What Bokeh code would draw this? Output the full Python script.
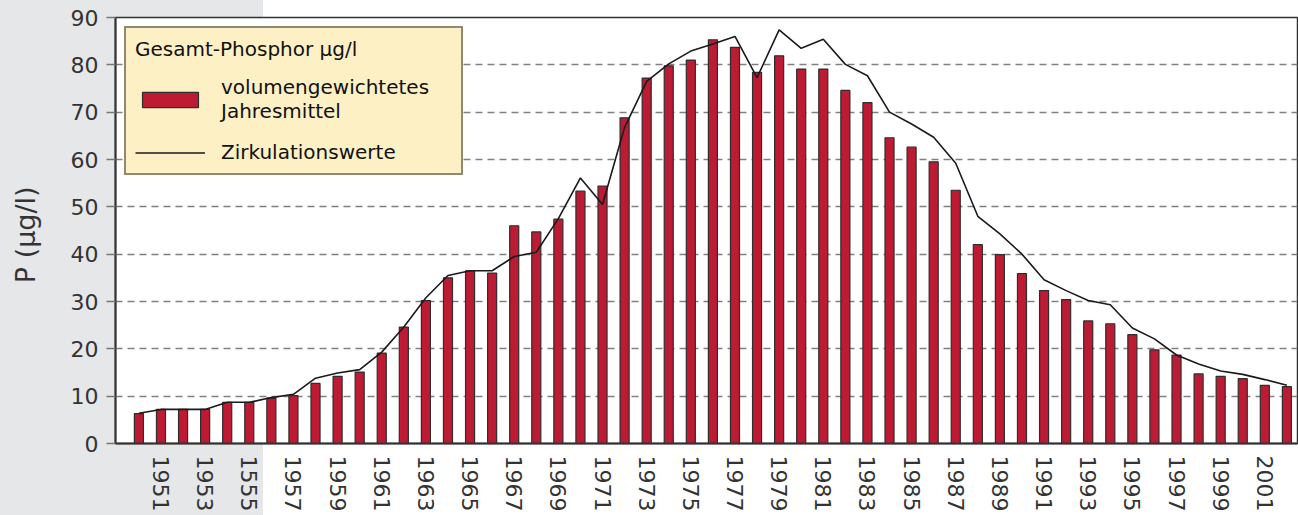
from bokeh.plotting import figure
from bokeh.models import Range1d, FixedTicker, Legend, LegendItem, ColumnDataSource
from bokeh.embed import file_html
from bokeh.resources import INLINE

# ---- data ----
years = list(range(1950, 2003))
jahresmittel = [6.3, 7.2, 7.2, 7.2, 8.7, 8.7, 9.6, 10.1, 12.7, 14.2,
                15.1, 19.1, 24.6, 30.2, 35.0, 36.5, 36.0, 46.0, 44.7, 47.4,
                53.3, 54.4, 68.8, 77.2, 79.8, 81.0, 85.3, 83.7, 78.4, 81.9,
                79.1, 79.1, 74.6, 72.0, 64.6, 62.6, 59.5, 53.5, 42.0, 39.9,
                35.9, 32.3, 30.4, 25.9, 25.3, 23.0, 19.8, 18.7, 14.7, 14.2,
                13.7, 12.3, 12.0]
zirkulation = [6.4, 7.2, 7.2, 7.2, 8.7, 8.7, 9.7, 10.4, 13.8, 14.9,
               15.6, 19.3, 24.6, 30.8, 35.5, 36.5, 36.5, 39.5, 40.4, 47.5,
               56.1, 50.5, 66.8, 76.5, 80.2, 82.9, 84.4, 86.0, 77.3, 87.4,
               83.5, 85.4, 80.1, 77.7, 70.0, 67.5, 64.7, 59.2, 48.0, 44.3,
               40.0, 34.6, 32.3, 30.2, 29.3, 24.4, 22.1, 18.7, 16.8, 15.3,
               14.6, 13.5, 12.3]
tick_years = [1951, 1953, 1955, 1957, 1959, 1961, 1963, 1965, 1967, 1969,
              1971, 1973, 1975, 1977, 1979, 1981, 1983, 1985, 1987, 1989,
              1991, 1993, 1995, 1997, 1999, 2001]
tick_labels = ["1951", "1953", "1555", "1957", "1959", "1961", "1963", "1965",
               "1967", "1969", "1971", "1973", "1975", "1977", "1979", "1981",
               "1983", "1985", "1987", "1989", "1991", "1993", "1995", "1997",
               "1999", "2001"]
y_ticks = [0, 10, 20, 30, 40, 50, 60, 70, 80, 90]

legend_title = "Gesamt-Phosphor µg/l"
label_bars = "volumengewichtetes\nJahresmittel"
label_line = "Zirkulationswerte"
y_label = "P  (µg/l)"

RED = "#BD1A33"
FONT = "DejaVu Sans"

src = ColumnDataSource(dict(year=years, jm=jahresmittel, zk=zirkulation))

p = figure(width=1298, height=515,
           x_range=Range1d(1948.94, 2002.48), y_range=Range1d(0, 90),
           output_backend="svg", toolbar_location=None,
           min_border_left=115, min_border_right=1,
           min_border_top=17, min_border_bottom=72)

p.border_fill_color = None
p.background_fill_color = "white"
p.styles = {"background": "linear-gradient(to right, #e6e7e9 0px, #e6e7e9 263px, #ffffff 263px)"}
p.outline_line_color = "#333333"
p.outline_line_width = 1.5

bars = p.vbar(x="year", top="jm", width=0.41, source=src,
              fill_color=RED, line_color="#2e2e2e", line_width=1.2)
line = p.line(x="year", y="zk", source=src, line_color="#1a1a1a", line_width=1.6)

# grid
p.xgrid.visible = False
p.ygrid.grid_line_color = "#808080"
p.ygrid.grid_line_width = 1.5
p.ygrid.grid_line_dash = "7 5"

# y axis
p.yaxis.ticker = FixedTicker(ticks=y_ticks)
p.yaxis.major_label_text_font = FONT
p.yaxis.major_label_text_font_size = "22px"
p.yaxis.major_label_text_color = "#333333"
p.yaxis.major_tick_out = 9
p.yaxis.major_tick_in = 0
p.yaxis.major_tick_line_color = "#777777"
p.yaxis.major_tick_line_width = 1.5
p.yaxis.minor_tick_out = 0
p.yaxis.minor_tick_in = 0
p.yaxis.axis_line_color = "#333333"
p.yaxis.axis_line_width = 2
p.yaxis.major_label_standoff = 8
p.yaxis.axis_label = y_label
p.yaxis.axis_label_text_font = FONT
p.yaxis.axis_label_text_font_size = "27px"
p.yaxis.axis_label_text_font_style = "normal"
p.yaxis.axis_label_text_color = "#333333"
p.yaxis.axis_label_standoff = 27

# x axis
p.xaxis.ticker = FixedTicker(ticks=tick_years)
p.xaxis.major_label_overrides = dict(zip(tick_years, tick_labels))
p.xaxis.major_label_orientation = "vertical"
p.xaxis.major_label_text_font = FONT
p.xaxis.major_label_text_font_size = "22px"
p.xaxis.major_label_text_color = "#333333"
p.xaxis.major_tick_out = 0
p.xaxis.major_tick_in = 0
p.xaxis.minor_tick_out = 0
p.xaxis.minor_tick_in = 0
p.xaxis.axis_line_color = "#333333"
p.xaxis.axis_line_width = 2
p.xaxis.major_label_standoff = 12

legend = Legend(items=[LegendItem(label=label_bars, renderers=[bars]),
                       LegendItem(label=label_line, renderers=[line])],
                title=legend_title, location="top_left")
legend.margin = 9
legend.padding = 9
legend.spacing = 17
legend.glyph_width = 70
legend.glyph_height = 19
legend.label_standoff = 16
legend.label_width = 231
legend.title_standoff = 14
legend.title_text_font = FONT
legend.title_text_font_size = "20px"
legend.title_text_font_style = "normal"
legend.title_text_color = "#111111"
legend.label_text_font = FONT
legend.label_text_font_size = "20px"
legend.label_text_color = "#111111"
legend.label_text_line_height = 1.4
legend.background_fill_color = "#FDF0C5"
legend.background_fill_alpha = 1
legend.border_line_color = "#222222"
legend.border_line_width = 2
p.add_layout(legend)

open("out.html", "w").write(file_html(p, INLINE))
